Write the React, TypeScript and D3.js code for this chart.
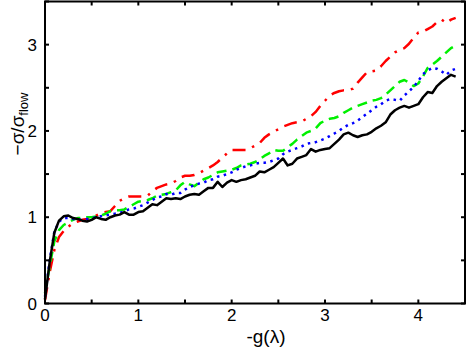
import { useEffect, useRef } from "react";
import * as d3 from "d3";

// sample positions along -g(lambda), every 0.05
const xs = d3.range(0, 89).map((i) => +(i * 0.05).toFixed(2));

const blackSeries = [
  0.05, 0.48, 0.82, 0.96, 1.01, 1.02, 0.99, 0.98, 0.96, 0.95,
  0.97, 1.0, 0.98, 0.97, 1.0, 1.02, 1.03, 1.06, 1.03, 1.03,
  1.06, 1.07, 1.11, 1.15, 1.14, 1.18, 1.22, 1.21, 1.22, 1.21,
  1.24, 1.26, 1.27, 1.26, 1.3, 1.34, 1.34, 1.41, 1.35, 1.4,
  1.43, 1.41, 1.43, 1.44, 1.46, 1.48, 1.53, 1.52, 1.55, 1.58,
  1.63, 1.68, 1.6, 1.62, 1.68, 1.7, 1.72, 1.79, 1.76, 1.78,
  1.79, 1.8, 1.85, 1.9, 1.96, 1.98, 1.95, 1.93, 1.95, 1.96,
  1.99, 2.03, 2.06, 2.1, 2.19, 2.24, 2.27, 2.29, 2.27, 2.29,
  2.31, 2.39, 2.45, 2.44, 2.52, 2.57, 2.61, 2.65, 2.63,
];

const blueSeries = [
  0.08, 0.5, 0.83, 0.95, 0.99, 0.99, 0.98, 0.97, 0.97, 0.98,
  0.99, 1.0, 1.01, 1.02, 1.03, 1.04, 1.05, 1.07, 1.09, 1.1,
  1.12, 1.14, 1.17, 1.2, 1.23, 1.24, 1.27, 1.26, 1.28, 1.28,
  1.32, 1.35, 1.37, 1.39, 1.4, 1.43, 1.44, 1.47, 1.48, 1.5,
  1.52, 1.55, 1.57, 1.59, 1.6, 1.62, 1.63, 1.63, 1.64, 1.66,
  1.68, 1.73, 1.76, 1.78, 1.8, 1.82, 1.85, 1.86, 1.87, 1.89,
  1.91, 1.94, 1.97, 2.0, 2.04, 2.07, 2.09, 2.12, 2.16, 2.2,
  2.24, 2.28, 2.31, 2.35, 2.37, 2.36, 2.35, 2.41, 2.46, 2.51,
  2.58, 2.66, 2.7, 2.73, 2.72, 2.69, 2.65, 2.7, 2.72,
];

const greenSeries = [
  0.12, 0.43, 0.72, 0.85, 0.91, 0.94, 0.97, 0.99, 0.99, 1.0,
  1.0, 1.01, 1.02, 1.04, 1.07, 1.08, 1.08, 1.09, 1.12, 1.15,
  1.18, 1.19, 1.2, 1.22, 1.25, 1.26, 1.27, 1.29, 1.31, 1.37,
  1.41, 1.38, 1.36, 1.4, 1.44, 1.46, 1.49, 1.52, 1.53, 1.54,
  1.55, 1.57, 1.6, 1.61, 1.62, 1.64, 1.67, 1.71, 1.74, 1.78,
  1.77, 1.77, 1.81, 1.85, 1.9, 1.94, 1.98, 2.0, 2.03, 2.09,
  2.12, 2.14, 2.15, 2.17, 2.21, 2.24, 2.27, 2.29, 2.31, 2.33,
  2.35, 2.36, 2.38, 2.42, 2.47, 2.52, 2.57, 2.59, 2.56, 2.52,
  2.55, 2.63, 2.73, 2.77, 2.81, 2.86, 2.91, 2.96, 2.99,
];

const redSeries = [
  0.04, 0.36, 0.62, 0.77, 0.84, 0.89, 0.93, 0.95, 0.97, 0.98,
  1.0, 1.02, 1.05, 1.06, 1.07, 1.13, 1.19, 1.22, 1.24, 1.24,
  1.24, 1.24, 1.25, 1.3, 1.34, 1.36, 1.38, 1.39, 1.42, 1.46,
  1.48, 1.48, 1.49, 1.51, 1.54, 1.57, 1.6, 1.64, 1.69, 1.74,
  1.78, 1.78, 1.78, 1.78, 1.8, 1.83, 1.86, 1.92, 1.96, 1.99,
  2.02, 2.05, 2.07, 2.09, 2.1, 2.11, 2.14, 2.17, 2.22, 2.29,
  2.35, 2.41, 2.44, 2.46, 2.47, 2.47, 2.49, 2.56, 2.62, 2.68,
  2.69, 2.7, 2.75, 2.81, 2.86, 2.91, 2.94, 2.96, 3.01, 3.08,
  3.14, 3.15, 3.18, 3.21, 3.26, 3.29, 3.25, 3.29, 3.31,
];

const xTicks = [0, 0.5, 1, 1.5, 2, 2.5, 3, 3.5, 4, 4.5];
const yTicks = [0, 0.5, 1, 1.5, 2, 2.5, 3, 3.5];

function App() {
  const svgRef = useRef<SVGSVGElement>(null);
  const width = 468, height = 347;
  const font = "'Liberation Sans', Arial, sans-serif";

  useEffect(() => {
    const svg = d3.select(svgRef.current);
    svg.selectAll("*").remove();

    const x = d3.scaleLinear().domain([0, 4.5]).range([45, 465]);
    const y = d3.scaleLinear().domain([0, 3.5]).range([303.5, 1.5]);

    const line = d3.line<number>()
      .x((_, i) => x(xs[i]))
      .y((d) => y(d));

    const series = [
      { data: redSeries, color: "#ff0000", dash: "13,7,2.5,7" },
      { data: greenSeries, color: "#00f000", dash: "10,6" },
      { data: blueSeries, color: "#0000ff", dash: "2.5,4.5" },
      { data: blackSeries, color: "#000000", dash: null },
    ];

    const g = svg.append("g");
    series.forEach((s) => {
      g.append("path")
        .attr("d", line(s.data))
        .attr("fill", "none")
        .attr("stroke", s.color)
        .attr("stroke-width", 2.5)
        .attr("stroke-linejoin", "round")
        .attr("stroke-dasharray", s.dash);
    });

    // frame
    svg.append("rect")
      .attr("x", x(0)).attr("y", y(3.5))
      .attr("width", x(4.5) - x(0)).attr("height", y(0) - y(3.5))
      .attr("fill", "none").attr("stroke", "#000").attr("stroke-width", 2);

    const tickLen = 4;
    xTicks.forEach((t) => {
      svg.append("line").attr("x1", x(t)).attr("x2", x(t))
        .attr("y1", y(0)).attr("y2", y(0) - tickLen)
        .attr("stroke", "#000").attr("stroke-width", 2);
      svg.append("line").attr("x1", x(t)).attr("x2", x(t))
        .attr("y1", y(3.5)).attr("y2", y(3.5) + tickLen)
        .attr("stroke", "#000").attr("stroke-width", 2);
      if (Number.isInteger(t)) {
        svg.append("text").attr("x", x(t)).attr("y", 321)
          .attr("text-anchor", "middle").attr("font-family", font)
          .attr("font-size", 17).text(t);
      }
    });
    yTicks.forEach((t) => {
      svg.append("line").attr("x1", x(0)).attr("x2", x(0) + tickLen)
        .attr("y1", y(t)).attr("y2", y(t))
        .attr("stroke", "#000").attr("stroke-width", 2);
      svg.append("line").attr("x1", x(4.5)).attr("x2", x(4.5) - tickLen)
        .attr("y1", y(t)).attr("y2", y(t))
        .attr("stroke", "#000").attr("stroke-width", 2);
      if (Number.isInteger(t)) {
        svg.append("text").attr("x", 37).attr("y", y(t) + 6)
          .attr("text-anchor", "end").attr("font-family", font)
          .attr("font-size", 17).text(t);
      }
    });

    // axis titles
    svg.append("text").attr("x", 266).attr("y", 343)
      .attr("text-anchor", "middle").attr("font-family", font)
      .attr("font-size", 19).text("-g(λ)");

    const yl = svg.append("text")
      .attr("transform", "translate(24,124) rotate(-90)")
      .attr("text-anchor", "middle").attr("font-family", font)
      .attr("font-size", 19);
    yl.append("tspan").text("\u2212\u03c3/\u03c3");
    yl.append("tspan").attr("font-size", 13).attr("dy", 4).text("flow");
  }, []);

  return (
    <svg ref={svgRef} width={width} height={height}
      style={{ position: "absolute", left: 0, top: 0, background: "#fff" }} />
  );
}

export default App;
